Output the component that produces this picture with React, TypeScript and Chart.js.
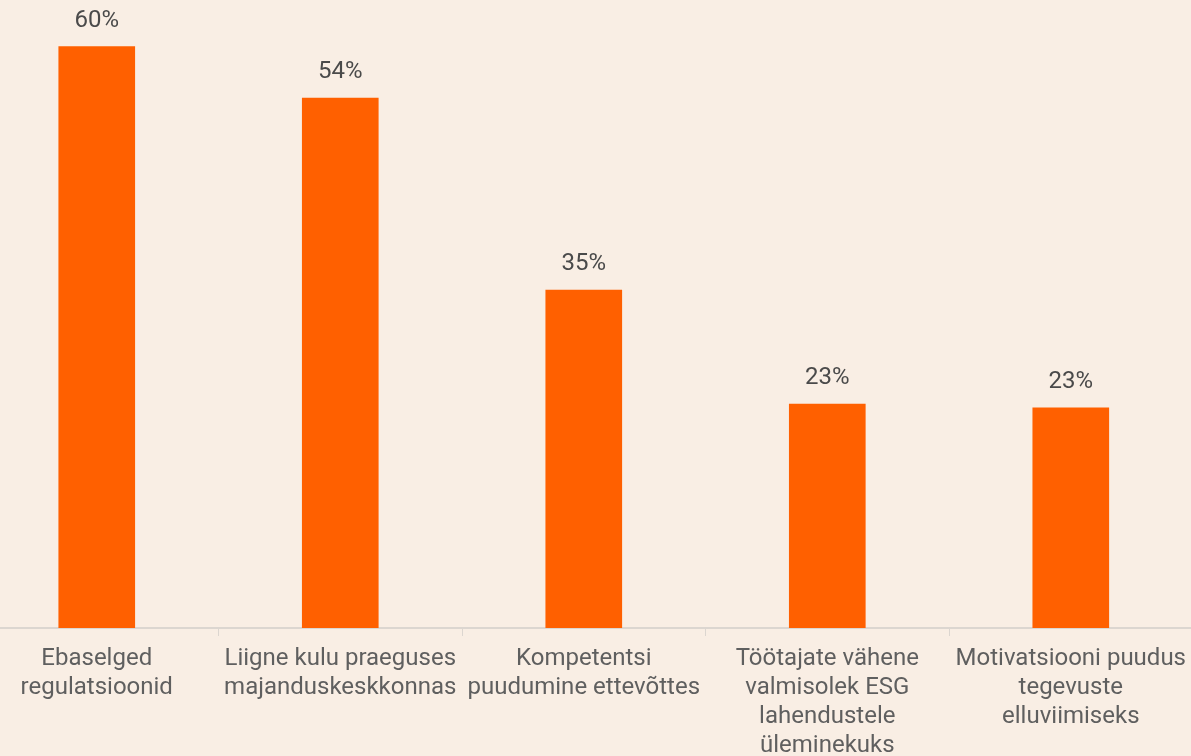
import React, { useEffect, useRef } from "react";
import { Chart, registerables } from "chart.js";

Chart.register(...registerables);

const categories: string[][] = [
  ["Ebaselged", "regulatsioonid"],
  ["Liigne kulu praeguses", "majanduskeskkonnas"],
  ["Kompetentsi", "puudumine ettevõttes"],
  ["Töötajate vähene", "valmisolek ESG", "lahendustele", "üleminekuks"],
  ["Motivatsiooni puudus", "tegevuste", "elluviimiseks"],
];
const values: number[] = [59.7, 54.4, 34.7, 23.0, 22.6];
const valueLabels: string[] = ["60%", "54%", "35%", "23%", "23%"];

const BG = "#f9eee4";
const BAR = "#ff6000";
const CANVAS_H = 790;
const AXIS_Y = 628;

export default function App() {
  const ref = useRef<HTMLCanvasElement | null>(null);
  useEffect(() => {
    if (!ref.current) return;
    const labelPlugin = {
      id: "valueLabels",
      afterDatasetsDraw(chart: any) {
        const ctx = chart.ctx;
        const meta = chart.getDatasetMeta(0);
        ctx.save();
        ctx.font = "24px Roboto";
        ctx.fillStyle = "#4a4a4a";
        ctx.textAlign = "center";
        ctx.textBaseline = "middle";
        meta.data.forEach((bar: any, i: number) => {
          ctx.fillText(valueLabels[i], bar.x, bar.y - 26);
        });
        ctx.restore();
      },
    };
    const chart = new Chart(ref.current, {
      type: "bar",
      data: {
        labels: categories,
        datasets: [
          {
            data: values,
            backgroundColor: BAR,
            barThickness: 76,
          },
        ],
      },
      options: {
        animation: false,
        responsive: true,
        maintainAspectRatio: false,
        layout: { padding: 0 },
        plugins: { legend: { display: false }, tooltip: { enabled: false } },
        scales: {
          x: {
            afterFit: (scale: any) => {
              scale.height = CANVAS_H - AXIS_Y;
            },
            grid: {
              display: true,
              drawOnChartArea: false,
              drawTicks: true,
              tickLength: 8,
              color: "#dcd6d0",
              offset: true,
            },
            border: { display: true, color: "#dcd6d0", width: 2 },
            ticks: {
              autoSkip: false,
              maxRotation: 0,
              minRotation: 0,
              padding: 9,
              color: "#5f5f5f",
              font: { family: "Roboto", size: 24, lineHeight: 1.2 },
            },
          },
          y: {
            display: false,
            min: 0,
            max: 64.48,
          },
        },
      },
      plugins: [labelPlugin],
    });
    return () => chart.destroy();
  }, []);

  return (
    <div
      style={{
        position: "fixed",
        left: 0,
        top: 0,
        width: 1191,
        height: 756,
        overflow: "hidden",
        background: BG,
      }}
    >
      <div
        style={{
          position: "absolute",
          left: -25,
          top: 0,
          width: 1220,
          height: CANVAS_H,
        }}
      >
        <canvas ref={ref} />
      </div>
    </div>
  );
}
